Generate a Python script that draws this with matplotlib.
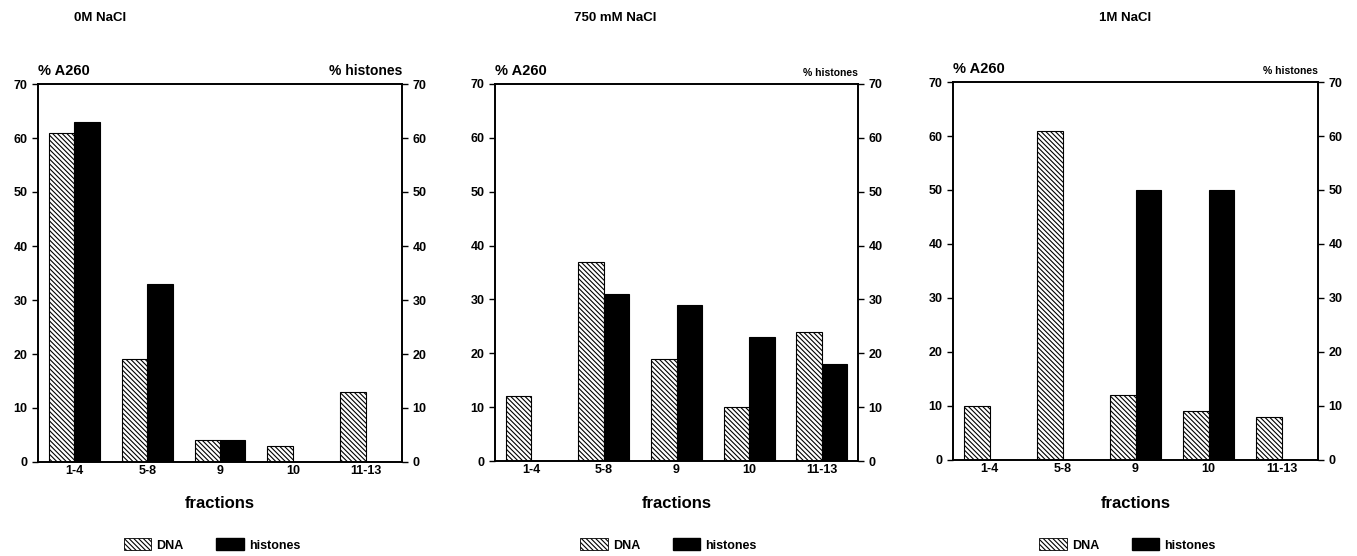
import matplotlib
matplotlib.use("Agg")
import matplotlib.pyplot as plt
import matplotlib.patches as mpatches
import numpy as np

plt.rcParams['font.family'] = ['Liberation Sans', 'DejaVu Sans']
plt.rcParams['font.weight'] = 'bold'
plt.rcParams['hatch.linewidth'] = 0.8

categories = ["1-4", "5-8", "9", "10", "11-13"]
titles = ["0M NaCl", "750 mM NaCl", "1M NaCl"]
dna_0M = [61, 19, 4, 3, 13]
his_0M = [63, 33, 4, 0, 0]
dna_750 = [12, 37, 19, 10, 24]
his_750 = [0, 31, 29, 23, 18]
dna_1M = [10, 61, 12, 9, 8]
his_1M = [0, 0, 50, 50, 0]
yticks = [0, 10, 20, 30, 40, 50, 60, 70]

panels = [(dna_0M, his_0M), (dna_750, his_750), (dna_1M, his_1M)]

W, H = 1357, 556
fig = plt.figure(figsize=(W / 100, H / 100), dpi=100)

# axes boxes in pixels: left, right, top, bottom
boxes = [(38, 402, 84, 462), (495, 858, 84, 461), (953, 1318, 82, 460)]
title_x = [100, 615, 1125]
hist_size = [10, 7.5, 7.5]
hatch = '\\' * 7

x = np.arange(len(categories))
bw = 0.35
for i, ((dna, his), (l, r, t, b)) in enumerate(zip(panels, boxes)):
    ax = fig.add_axes([l / W, 1 - b / H, (r - l) / W, (b - t) / H])
    ax.bar(x - bw / 2, dna, width=bw, facecolor='white', edgecolor='black',
           hatch=hatch, linewidth=0.8)
    ax.bar(x + bw / 2, his, width=bw, facecolor='black', edgecolor='black',
           linewidth=0.8)
    ax.set_xlim(-0.5, 4.5)
    ax.set_ylim(0, 70)
    ax.set_yticks(yticks)
    ax.set_xticks(x)
    ax.set_xticklabels(categories)
    ax.tick_params(axis='x', length=0, pad=2, labelsize=9)
    ax.tick_params(axis='y', length=4, width=1, labelsize=9, direction='out')
    for s in ax.spines.values():
        s.set_linewidth(1.2)
    ax2 = ax.twinx()
    ax2.set_ylim(0, 70)
    ax2.set_yticks(yticks)
    ax2.tick_params(axis='y', length=4, width=1, labelsize=9, direction='out')
    for s in ax2.spines.values():
        s.set_linewidth(1.2)
    cx = (l + r) / 2
    fig.text(cx / W, 1 - 503 / H, "fractions", ha='center', va='center',
             fontsize=12, fontweight='bold')
    # corner labels
    ax.text(0.0, 1.015, "% A260", transform=ax.transAxes, ha='left', va='bottom',
            fontsize=10.5, fontweight='bold')
    ax.text(1.0, 1.015, "% histones", transform=ax.transAxes, ha='right', va='bottom',
            fontsize=hist_size[i], fontweight='bold')
    fig.text(title_x[i] / W, 1 - 18 / H, titles[i], ha='center', va='center',
             fontsize=9.5, fontweight='bold')
    handles = [mpatches.Patch(facecolor='white', edgecolor='black', hatch=hatch,
                              linewidth=0.6, label='DNA'),
               mpatches.Patch(facecolor='black', edgecolor='black', label='histones')]
    fig.legend(handles=handles, loc='center', bbox_to_anchor=((cx - 8) / W, 1 - 545 / H),
               ncol=2, frameon=False, fontsize=9, handlelength=2.2, handleheight=1.1,
               columnspacing=2.6, handletextpad=0.4)

fig.savefig("out.png", dpi=100, facecolor='white')
